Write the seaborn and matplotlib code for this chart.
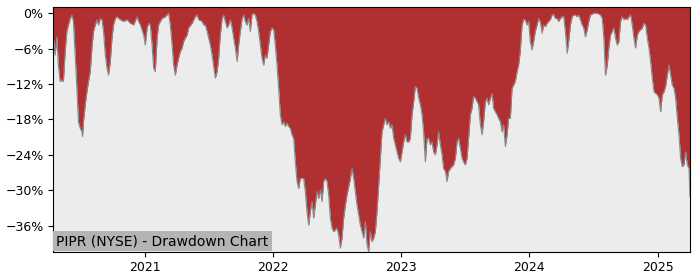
import matplotlib
matplotlib.use("Agg")
import matplotlib.pyplot as plt
import matplotlib.ticker as mticker
import matplotlib.dates as mdates
import numpy as np
import pandas as pd
import seaborn as sns

# ---- data (decimal year, drawdown in %) ----
years_a = [2020.290, 2020.304, 2020.317, 2020.329, 2020.343, 2020.356, 2020.368, 2020.382, 2020.395, 2020.407,
           2020.421, 2020.434, 2020.446, 2020.460, 2020.473, 2020.485, 2020.499, 2020.512, 2020.517, 2020.524,
           2020.538, 2020.551, 2020.563, 2020.577, 2020.590, 2020.602, 2020.616, 2020.629, 2020.641, 2020.655,
           2020.668, 2020.680, 2020.694, 2020.707, 2020.719, 2020.733, 2020.746, 2020.758, 2020.772, 2020.785,
           2020.811, 2020.836, 2020.863, 2020.889, 2020.914, 2020.941, 2020.953, 2020.967, 2020.992, 2021.005,
           2021.019, 2021.031, 2021.044, 2021.058, 2021.070, 2021.083, 2021.097, 2021.109, 2021.122]
dd_a = [-4.2, -7.1, -4.0, -8.8, -11.6, -11.3, -11.6, -6.5, -3.1, -2.0,
        -0.9, -0.3, -1.4, -7.1, -12.7, -18.4, -19.5, -20.1, -20.9, -18.4,
        -15.5, -13.3, -11.6, -9.9, -5.9, -3.1, -2.0, -1.1, -2.0, -0.9,
        -1.1, -3.1, -7.1, -9.3, -10.5, -8.2, -4.2, -2.0, -0.9, -0.6,
        -1.1, -1.4, -1.1, -1.7, -2.0, -0.6, -1.4, -2.0, -3.7, -5.4,
        -2.5, -1.7, -2.0, -5.4, -9.3, -9.9, -4.2, -2.0, -1.4]

years_b = [2021.136, 2021.161, 2021.187, 2021.200, 2021.214, 2021.226, 2021.239, 2021.253, 2021.265, 2021.278,
           2021.292, 2021.304, 2021.317, 2021.331, 2021.343, 2021.370, 2021.395, 2021.409, 2021.421, 2021.448,
           2021.460, 2021.473, 2021.487, 2021.499, 2021.512, 2021.526, 2021.538, 2021.551, 2021.565, 2021.577,
           2021.590, 2021.604, 2021.616, 2021.629, 2021.643, 2021.655, 2021.668, 2021.682, 2021.694, 2021.707,
           2021.721, 2021.733, 2021.746, 2021.760, 2021.772, 2021.785, 2021.798, 2021.811, 2021.824, 2021.837,
           2021.850, 2021.863, 2021.876, 2021.889, 2021.902, 2021.915, 2021.928, 2021.941]
dd_b = [-0.9, -0.6, 0.0, -2.0, -5.4, -8.8, -10.5, -8.8, -7.6, -6.5,
        -5.9, -4.8, -4.2, -3.7, -2.5, -1.7, -0.6, -0.3, -1.1, -1.4,
        -2.0, -2.0, -3.1, -4.2, -5.4, -7.1, -9.0, -11.0, -9.9, -7.6,
        -3.7, -0.9, -0.3, -1.4, -2.5, -2.0, -1.1, -2.5, -4.2, -5.9,
        -8.2, -5.4, -3.1, -0.9, -0.3, -1.4, -2.0, -0.9, -3.1, -0.3,
        0.0, -0.3, -1.4, -3.1, -5.4, -7.6, -8.8, -7.1]

years_c = [2021.954, 2021.967, 2021.980, 2021.993, 2022.006, 2022.019, 2022.032, 2022.045, 2022.058, 2022.071,
           2022.084, 2022.097, 2022.110, 2022.123, 2022.136, 2022.149, 2022.162, 2022.175, 2022.188, 2022.201,
           2022.214, 2022.240, 2022.253, 2022.266, 2022.279, 2022.292, 2022.305, 2022.318, 2022.331, 2022.344,
           2022.357, 2022.370, 2022.383, 2022.396, 2022.409, 2022.422, 2022.435, 2022.448, 2022.461, 2022.474,
           2022.500, 2022.513, 2022.526, 2022.539, 2022.552, 2022.565, 2022.578, 2022.604, 2022.617, 2022.630,
           2022.643, 2022.656, 2022.682, 2022.708]
dd_c = [-7.6, -5.4, -3.1, -2.5, -2.8, -5.4, -8.8, -12.7, -17.2, -18.9,
        -18.4, -19.2, -18.6, -19.2, -19.5, -20.6, -21.2, -25.2, -28.5, -29.7,
        -28.0, -28.0, -30.2, -33.6, -35.9, -33.6, -31.9, -34.7, -32.5, -30.2,
        -31.4, -29.9, -31.9, -28.5, -28.0, -28.5, -30.8, -34.7, -36.4, -37.0,
        -36.4, -37.6, -39.8, -38.1, -34.7, -32.5, -30.8, -28.0, -26.3, -28.0,
        -30.2, -32.5, -35.9, -38.1]

years_d = [2022.721, 2022.734, 2022.747, 2022.760, 2022.773, 2022.786, 2022.799, 2022.812, 2022.825, 2022.838,
           2022.851, 2022.864, 2022.877, 2022.890, 2022.903, 2022.916, 2022.929, 2022.942, 2022.955, 2022.968,
           2022.981, 2022.994, 2023.007, 2023.020, 2023.033, 2023.046, 2023.059, 2023.072, 2023.085, 2023.098,
           2023.111, 2023.124, 2023.137, 2023.150, 2023.163, 2023.175, 2023.189, 2023.202, 2023.214, 2023.228,
           2023.241, 2023.253, 2023.267, 2023.280, 2023.292, 2023.306, 2023.319, 2023.331, 2023.345, 2023.358,
           2023.370, 2023.384, 2023.409, 2023.423, 2023.436, 2023.448, 2023.462, 2023.475, 2023.487, 2023.501,
           2023.514, 2023.526, 2023.540, 2023.553, 2023.565]
dd_d = [-35.3, -39.3, -40.4, -37.0, -38.7, -38.1, -37.0, -33.6, -29.1, -24.6,
        -20.1, -18.9, -17.8, -18.9, -18.4, -19.5, -18.9, -21.2, -22.3, -23.5,
        -24.6, -25.2, -23.5, -21.8, -20.6, -21.8, -21.8, -21.2, -17.2, -15.0,
        -12.4, -12.7, -14.4, -15.5, -17.2, -20.1, -25.2, -21.2, -21.2, -22.3,
        -21.8, -23.5, -24.0, -22.3, -20.1, -22.3, -24.0, -26.3, -26.8, -28.5,
        -26.8, -26.3, -25.7, -24.6, -21.8, -21.2, -22.9, -24.6, -25.2, -25.7,
        -24.6, -21.2, -17.2, -16.1, -14.1]

years_e = [2023.579, 2023.592, 2023.604, 2023.618, 2023.631, 2023.643, 2023.657, 2023.670, 2023.682, 2023.696,
           2023.709, 2023.721, 2023.735, 2023.748, 2023.760, 2023.774, 2023.787, 2023.799, 2023.813, 2023.826,
           2023.838, 2023.852, 2023.865, 2023.877, 2023.890, 2023.904, 2023.916, 2023.929, 2023.943, 2023.955,
           2023.968, 2023.982, 2023.994, 2024.007, 2024.021, 2024.033, 2024.046, 2024.060, 2024.072, 2024.085,
           2024.099, 2024.111, 2024.124, 2024.138, 2024.150, 2024.163, 2024.177, 2024.189, 2024.202, 2024.216,
           2024.228, 2024.241, 2024.255, 2024.267, 2024.280, 2024.294, 2024.306, 2024.319, 2024.333, 2024.345,
           2024.358, 2024.372, 2024.384]
dd_e = [-14.4, -15.0, -15.5, -18.9, -20.6, -18.4, -15.0, -14.4, -15.5, -14.4,
        -13.6, -16.1, -16.7, -17.2, -17.8, -18.4, -20.1, -18.9, -22.6, -20.6,
        -17.8, -17.8, -12.7, -12.2, -11.6, -9.9, -8.8, -6.5, -2.0, -1.1,
        -1.1, -2.0, -1.4, -4.8, -6.2, -4.8, -3.1, -2.0, -0.9, -1.4,
        -3.4, -2.0, -2.3, -1.7, -1.4, -1.1, -0.3, -0.2, -0.9, -0.9,
        -1.4, -0.9, -0.6, -0.6, -3.1, -6.8, -4.8, -2.0, -0.6, -0.3,
        -0.3, -0.6, -0.3]

years_f = [2024.397, 2024.411, 2024.423, 2024.436, 2024.450, 2024.462, 2024.475, 2024.501, 2024.528, 2024.553,
           2024.567, 2024.579, 2024.592, 2024.606, 2024.618, 2024.631, 2024.644, 2024.657, 2024.670, 2024.683,
           2024.696, 2024.709, 2024.722, 2024.735, 2024.748, 2024.761, 2024.774, 2024.787, 2024.800, 2024.813,
           2024.826, 2024.839, 2024.852, 2024.865, 2024.878, 2024.891, 2024.904, 2024.917, 2024.930, 2024.943,
           2024.956, 2024.969, 2024.982, 2024.995, 2025.008, 2025.021, 2025.034, 2025.047, 2025.060, 2025.073,
           2025.086, 2025.099, 2025.112, 2025.125, 2025.138, 2025.151, 2025.164, 2025.177, 2025.190, 2025.203,
           2025.216, 2025.229, 2025.242, 2025.250]
dd_f = [-1.1, -2.0, -2.5, -4.0, -2.8, -1.4, -0.3, 0.0, 0.0, -0.3,
        -0.9, -4.2, -10.5, -8.8, -5.9, -3.7, -3.1, -2.5, -4.2, -5.4,
        -4.8, -1.4, -0.6, -1.1, -0.9, -1.1, -0.6, -0.3, -2.0, -4.2,
        -5.9, -3.7, -3.1, -2.8, -2.5, -1.7, -2.0, -4.2, -5.9, -8.2,
        -11.0, -13.3, -13.6, -13.8, -14.4, -16.7, -13.8, -13.3, -12.4, -10.5,
        -8.8, -10.5, -12.2, -12.7, -14.4, -17.8, -20.6, -24.6, -26.0, -25.7,
        -23.5, -25.7, -26.3, -31.1]

title_text = "PIPR (NYSE) - Drawdown Chart"
ytick_step = 6

# ---- assemble ----
years = years_a + years_b + years_c + years_d + years_e + years_f
drawdown = dd_a + dd_b + dd_c + dd_d + dd_e + dd_f


def decimal_year_to_ts(t):
    y = int(np.floor(t))
    start = pd.Timestamp(year=y, month=1, day=1)
    end = pd.Timestamp(year=y + 1, month=1, day=1)
    return start + (end - start) * (t - y)


df = pd.DataFrame({"date": [decimal_year_to_ts(t) for t in years],
                   "drawdown": drawdown})

RED = "#b03032"
BG = "#ececec"

sns.set_style("ticks")
plt.rcParams["font.family"] = ["DejaVu Sans"]

fig = plt.figure(figsize=(7.0, 2.8), dpi=100)
ax = fig.add_axes([0.0762, 0.1011, 0.9095, 0.8729])
ax.set_facecolor(RED)

ymin = df["drawdown"].min()
ymax = 1.0
ax.fill_between(df["date"], df["drawdown"], ymin - 5, color=BG, linewidth=0, zorder=1)
sns.lineplot(data=df, x="date", y="drawdown", ax=ax, color="#8a8a8a", linewidth=0.8, zorder=2)

ax.set_xlim(df["date"].iloc[0], df["date"].iloc[-1])
ax.set_ylim(ymin, ymax)

ax.yaxis.set_major_locator(mticker.MultipleLocator(ytick_step))
ax.yaxis.set_major_formatter(mticker.FuncFormatter(
    lambda v, p: f"{v:.0f}%".replace("-", "\u2212") if round(v) != 0 else "0%"))
ax.xaxis.set_major_locator(mdates.YearLocator())
ax.xaxis.set_major_formatter(mdates.DateFormatter("%Y"))

ax.set_xlabel("")
ax.set_ylabel("")
ax.tick_params(axis="both", labelsize=9, length=3.5, width=0.8, color="black", labelcolor="black")
for s in ax.spines.values():
    s.set_visible(True)
    s.set_color("black")
    s.set_linewidth(0.8)

ax.annotate(title_text, xy=(0, 0), xycoords="axes fraction",
            xytext=(2.2, 2.6), textcoords="offset points",
            ha="left", va="bottom", fontsize=10, color="black",
            bbox=dict(facecolor="#b4b4b4", edgecolor="none", pad=2.2), zorder=5)

fig.savefig("out.png", dpi=100)
